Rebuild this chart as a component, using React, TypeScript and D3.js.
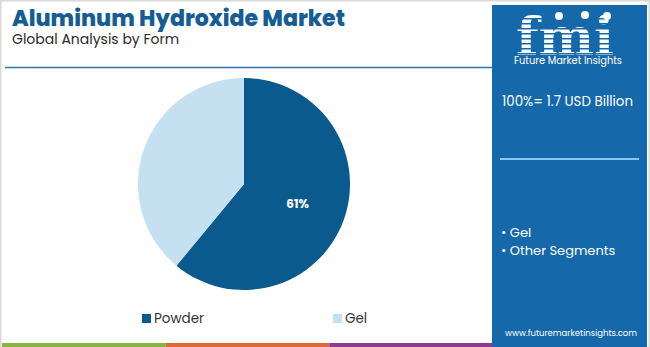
import React from "react";
import * as d3 from "d3";

const categories = ["Powder", "Gel"];
const shares = [61, 39];
const colors = ["#0b5a8e", "#c5e0f0"];
const panelItems = ["Gel", "Other Segments"];
const totalLabel = "100%= 1.7 USD Billion";
const stripColors = ["#86b541", "#e0693a", "#8e3a8e"];

const W = 650;
const H = 347;

export default function App() {
  const cx = 244;
  const cy = 184;
  const R = 106;
  const pie = d3.pie<number>().sort(null).value((d) => d)(shares);
  const arc = d3.arc<d3.PieArcDatum<number>>().innerRadius(0).outerRadius(R);
  const labelArc = d3.arc<d3.PieArcDatum<number>>().innerRadius(114).outerRadius(0);
  const stripX = d3.scaleBand<number>().domain([0, 1, 2]).range([2, 493]).padding(0);
  const font = "Poppins, 'Open Sans', Roboto, sans-serif";

  return (
    <svg
      width={W}
      height={H}
      style={{ position: "absolute", left: 0, top: 0, background: "#fff" }}
      fontFamily={font}
    >
      <rect x={0} y={0} width={W} height={H} fill="#fff" />
      <rect x={0.5} y={0.5} width={W - 1} height={H} fill="none" stroke="#d9d9d9" strokeWidth={2} />

      {/* title */}
      <text x={12} y={26} fontSize={23} fontWeight={800} fill="#155d94" textLength={333} lengthAdjust="spacingAndGlyphs">
        Aluminum Hydroxide Market
      </text>
      <text x={12} y={44} fontSize={14} fill="#2b2b2b">
        Global Analysis by Form
      </text>
      <line x1={5} x2={493} y1={67.5} y2={67.5} stroke="#2f74ad" strokeWidth={1.5} />

      {/* pie */}
      <g transform={`translate(${cx},${cy})`}>
        {pie.map((p, i) => (
          <path key={categories[i]} d={arc(p) || ""} fill={colors[i]} />
        ))}
        {pie.slice(0, 1).map((p, i) => {
          const [lx, ly] = labelArc.centroid(p);
          return (
            <text key={i} x={lx} y={ly} dy="0.35em" textAnchor="middle" fontSize={12} fontWeight={700} fill="#fff">
              {shares[i]}%
            </text>
          );
        })}
      </g>

      {/* legend */}
      {categories.map((c, i) => (
        <g key={c} transform={`translate(${[142, 333][i]},314)`}>
          <rect x={0} y={0} width={9} height={9} fill={colors[i]} />
          <text x={12} y={9} fontSize={13.5} fill="#333">
            {c}
          </text>
        </g>
      ))}

      {/* bottom strip */}
      {stripColors.map((c, i) => (
        <rect key={c} x={stripX(i)} y={343} width={stripX.bandwidth()} height={4} fill={c} />
      ))}

      {/* right panel */}
      <rect x={492} y={5} width={155} height={342} fill="#1568a9" />
      <g fill="#fff">
        <text x={565} y={55} textAnchor="middle" fontSize={52} fontWeight={700} fontFamily="'DejaVu Serif', serif" textLength={98} lengthAdjust="spacingAndGlyphs">
          fmi
        </text>
        {d3.range(8).map((k) => (
          <rect key={k} x={512} y={18 + k * 5} width={106} height={1.5} fill="#1568a9" />
        ))}
        <circle cx={559} cy={16} r={4} fill="#fff" />
        <circle cx={585} cy={15} r={4} fill="#fff" />
        <circle cx={607} cy={16} r={4} fill="#fff" />
        <text x={568} y={64} textAnchor="middle" fontSize={10} textLength={108} lengthAdjust="spacingAndGlyphs">
          Future Market Insights
        </text>
        <text x={502} y={106} fontSize={14} textLength={131} lengthAdjust="spacingAndGlyphs">
          {totalLabel}
        </text>
      </g>
      <line x1={500} x2={639} y1={159} y2={159} stroke="#8cc4ec" strokeWidth={2} />
      {panelItems.map((t, i) => (
        <text key={t} x={501} y={237 + i * 18} fontSize={13} fill="#fff">
          {"\u2022 " + t}
        </text>
      ))}
      <text x={571} y={336} textAnchor="middle" fontSize={9} fill="#fff" textLength={132} lengthAdjust="spacingAndGlyphs">
        www.futuremarketinsights.com
      </text>
    </svg>
  );
}
